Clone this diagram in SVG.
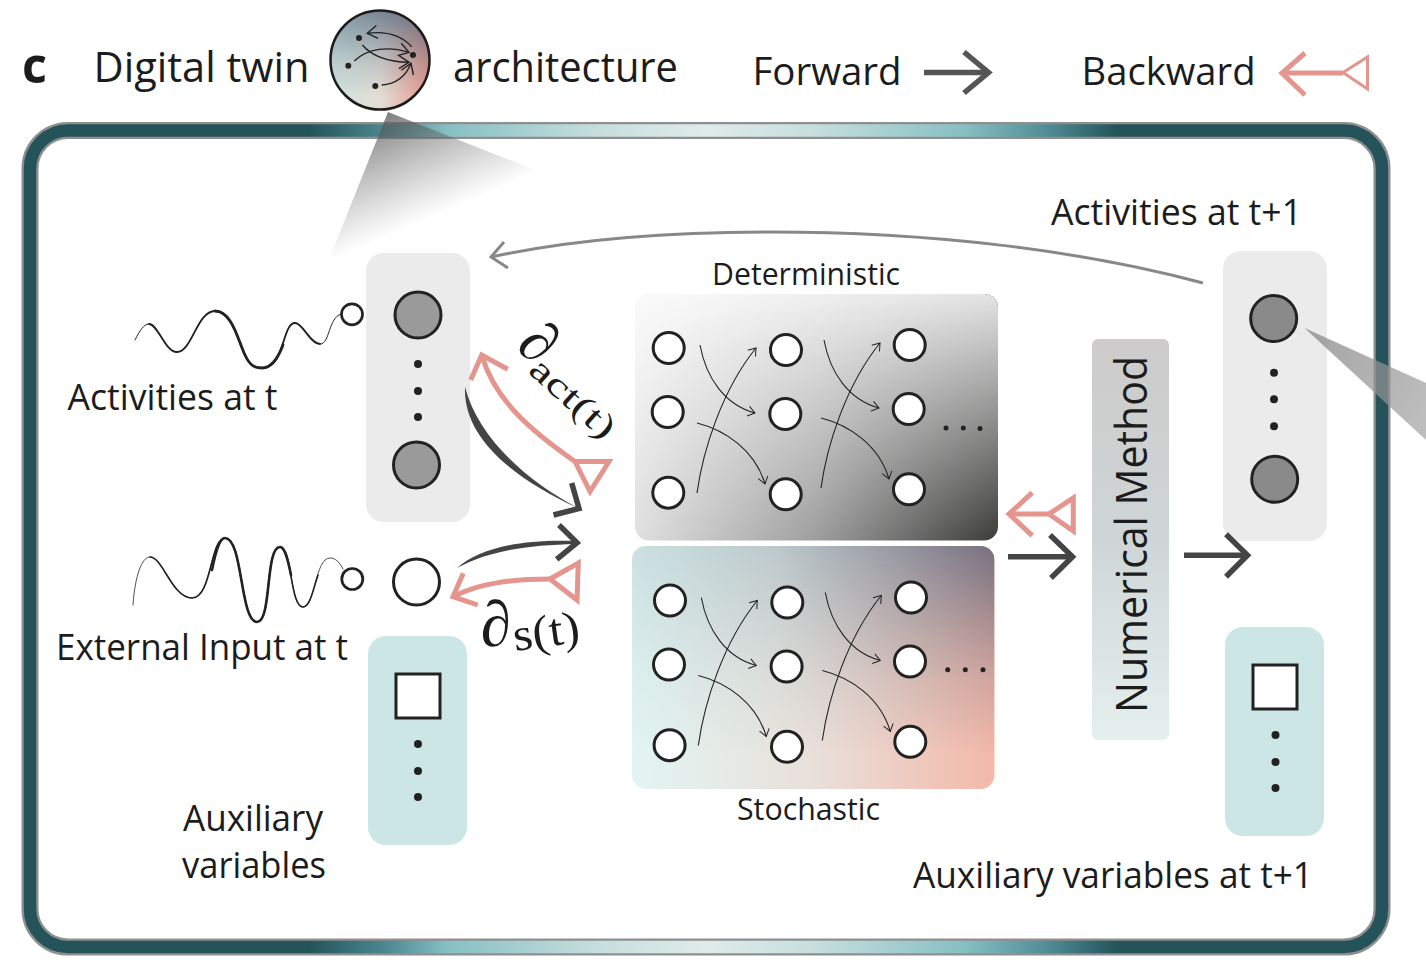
<svg xmlns="http://www.w3.org/2000/svg" xmlns:xlink="http://www.w3.org/1999/xlink" width="1426" height="972" viewBox="0 0 1426 972">
<style>
  .t { font-family: "Open Sans", "Noto Sans", sans-serif; fill: #1c1c1c; }
  .m { font-family: "Liberation Serif", "DejaVu Serif", serif; fill: #1c1c1c; }
  .ink { stroke: #222; stroke-width: 3; }
  .grey { stroke: #222; stroke-width: 3; }
  .dot { fill: #222; }
  .dark { fill: none; stroke: #444; stroke-width: 5.5; }
  .pink { fill: none; stroke: #e4958d; stroke-width: 5; }
  .panelG { fill: #ebebeb; }
  .panelT { fill: #cbe6e4; }
  .thin { fill: none; stroke: #222; stroke-width: 1.1; }
</style>
<defs>
  <linearGradient id="frameG" gradientUnits="userSpaceOnUse" x1="22" y1="0" x2="1390" y2="0">
    <stop offset="0" stop-color="#24545a"/>
    <stop offset="0.21" stop-color="#24545a"/>
    <stop offset="0.27" stop-color="#4f8c94"/>
    <stop offset="0.31" stop-color="#86bfc2"/>
    <stop offset="0.42" stop-color="#c6dedd"/>
    <stop offset="0.5" stop-color="#e0ebea"/>
    <stop offset="0.58" stop-color="#c6dedd"/>
    <stop offset="0.69" stop-color="#86bfc2"/>
    <stop offset="0.75" stop-color="#4f8c94"/>
    <stop offset="0.8" stop-color="#24545a"/>
    <stop offset="1" stop-color="#24545a"/>
  </linearGradient>
  <linearGradient id="funnelTop" gradientUnits="userSpaceOnUse" x1="388" y1="112" x2="433" y2="217">
    <stop offset="0" stop-color="#555" stop-opacity="0.75"/>
    <stop offset="1" stop-color="#777" stop-opacity="0"/>
  </linearGradient>
  <linearGradient id="funnelRight" gradientUnits="userSpaceOnUse" x1="1305" y1="328" x2="1426" y2="410">
    <stop offset="0" stop-color="#8c8c8c" stop-opacity="0.8"/>
    <stop offset="1" stop-color="#999" stop-opacity="0.65"/>
  </linearGradient>
  <linearGradient id="detBottom" x1="0" x2="1" y1="0" y2="0">
    <stop offset="0" stop-color="#e0e0e0"/>
    <stop offset="0.5" stop-color="#9e9e9e"/>
    <stop offset="1" stop-color="#3c3c3b"/>
  </linearGradient>
  <linearGradient id="detTop" x1="0" x2="1" y1="0" y2="0">
    <stop offset="0" stop-color="#fbfbfb"/>
    <stop offset="1" stop-color="#e4e4e4"/>
  </linearGradient>
  <linearGradient id="stoBottom" x1="0" x2="1" y1="0" y2="0">
    <stop offset="0" stop-color="#e2f5f3"/>
    <stop offset="0.5" stop-color="#e9e0da"/>
    <stop offset="1" stop-color="#f3b8a8"/>
  </linearGradient>
  <linearGradient id="stoTop" x1="0" x2="1" y1="0" y2="0">
    <stop offset="0" stop-color="#cbe0e0"/>
    <stop offset="0.4" stop-color="#bcc8ca"/>
    <stop offset="1" stop-color="#76707f"/>
  </linearGradient>
  <linearGradient id="fadeV" x1="0" x2="0" y1="0" y2="1">
    <stop offset="0" stop-color="#fff"/>
    <stop offset="1" stop-color="#000"/>
  </linearGradient>
  <linearGradient id="fadeFast" x1="0" x2="0" y1="0" y2="1">
    <stop offset="0" stop-color="#fff"/>
    <stop offset="0.3" stop-color="#999"/>
    <stop offset="0.55" stop-color="#444"/>
    <stop offset="0.85" stop-color="#000"/>
  </linearGradient>
  <mask id="fadeMask" maskContentUnits="objectBoundingBox" x="0" y="0" width="1" height="1">
    <rect width="1" height="1" fill="url(#fadeV)"/>
  </mask>
  <mask id="fadeFastMask" maskContentUnits="objectBoundingBox" x="0" y="0" width="1" height="1">
    <rect width="1" height="1" fill="url(#fadeFast)"/>
  </mask>
  <linearGradient id="numG" x1="0" x2="0" y1="0" y2="1">
    <stop offset="0" stop-color="#cdcbcb"/>
    <stop offset="0.5" stop-color="#cfd5d6"/>
    <stop offset="1" stop-color="#e4f0ee"/>
  </linearGradient>
  <linearGradient id="badgeA" x1="0" y1="0" x2="1" y2="0">
    <stop offset="0" stop-color="#839ea8"/>
    <stop offset="1" stop-color="#6a6a7c"/>
  </linearGradient>
  <linearGradient id="badgeB" x1="0" y1="0" x2="1" y2="0">
    <stop offset="0" stop-color="#cfe2de"/>
    <stop offset="0.5" stop-color="#e3ddd6"/>
    <stop offset="1" stop-color="#e3978a"/>
  </linearGradient>
  <marker id="tip" markerUnits="userSpaceOnUse" markerWidth="14" markerHeight="14" refX="9" refY="6" orient="auto" overflow="visible">
    <path d="M2,1 L9,6 L2,11" fill="none" stroke="#222" stroke-width="1"/>
  </marker>
  <marker id="tipB" markerUnits="userSpaceOnUse" markerWidth="18" markerHeight="18" refX="11" refY="7" orient="auto" overflow="visible">
    <path d="M1,0.5 L11,7 L1,13.5" fill="none" stroke="#222" stroke-width="1.4"/>
  </marker>
  <g id="net">
    <path class="thin" marker-end="url(#tip)" d="M700,345 C706,378 725,405 755,413"/>
    <path class="thin" marker-end="url(#tip)" d="M697,493 C703,450 722,390 756,348"/>
    <path class="thin" marker-end="url(#tip)" d="M697,423 C725,430 755,450 765,484"/>
    <path class="thin" marker-end="url(#tip)" d="M824,340 C830,373 849,400 879,408"/>
    <path class="thin" marker-end="url(#tip)" d="M821,488 C827,445 846,385 880,343"/>
    <path class="thin" marker-end="url(#tip)" d="M821,418 C849,425 879,445 889,479"/>
    <g fill="#fff" class="ink">
      <circle cx="668.7" cy="348" r="15.5"/>
      <circle cx="667.7" cy="412" r="15.5"/>
      <circle cx="668.3" cy="492.7" r="15.5"/>
      <circle cx="786" cy="350" r="15.5"/>
      <circle cx="785.3" cy="414" r="15.5"/>
      <circle cx="785.7" cy="494.3" r="15.5"/>
      <circle cx="909.7" cy="345" r="15.5"/>
      <circle cx="908.7" cy="409" r="15.5"/>
      <circle cx="909" cy="489.3" r="15.5"/>
    </g>
  </g>
</defs>

<!-- outer frame -->
<g id="frame">
  <rect x="30" y="130.500" width="1352" height="816.500" rx="38" fill="#fff" stroke="#8f8f8f" stroke-width="17"/>
  <rect x="30" y="130.500" width="1352" height="816.500" rx="38" fill="none" stroke="url(#frameG)" stroke-width="12.500"/>
</g>

<!-- zoom wedge from the heading badge -->
<g id="wedge-badge">
  <polygon points="388,112 328,262 540,172" fill="url(#funnelTop)"/>
</g>

<!-- heading -->
<g id="heading">
  <text class="t" x="22" y="83" font-size="50" font-weight="700" textLength="25" lengthAdjust="spacingAndGlyphs">c</text>
  <text class="t" x="93.500" y="82" font-size="42" textLength="216" lengthAdjust="spacingAndGlyphs">Digital twin</text>
  <text class="t" x="453" y="82" font-size="42" textLength="225" lengthAdjust="spacingAndGlyphs">architecture</text>
  <text class="t" x="752.500" y="85" font-size="39" textLength="149" lengthAdjust="spacingAndGlyphs">Forward</text>
  <text class="t" x="1081.500" y="85" font-size="39" textLength="174" lengthAdjust="spacingAndGlyphs">Backward</text>
</g>

<g id="badge">
  <rect x="330" y="10" width="100" height="100" rx="50" fill="url(#badgeB)"/>
  <rect x="330" y="10" width="100" height="100" rx="50" fill="url(#badgeA)" mask="url(#fadeFastMask)"/>
  <circle cx="380" cy="60" r="49.500" fill="none" stroke="#1c1c1c" stroke-width="2.500"/>
  <g class="dot">
    <circle cx="359" cy="38" r="3"/>
    <circle cx="348.300" cy="65.700" r="3"/>
    <circle cx="375.300" cy="86" r="3"/>
    <circle cx="413" cy="55" r="3"/>
  </g>
  <g fill="none" stroke="#222" stroke-width="1.400">
    <path marker-end="url(#tipB)" d="M411.700,46.700 C400,34 385,31 367.300,33.300"/>
    <path marker-end="url(#tipB)" d="M362.300,45 C372,56 388,62 409,62.300"/>
    <path marker-end="url(#tipB)" d="M354.300,61 C368,48 388,46 409,52.300"/>
    <path marker-end="url(#tipB)" d="M381.700,85 C397,84 406,76 411,63.300"/>
  </g>
</g>

<!-- legend arrows -->
<g id="legend-forward" class="dark" style="stroke:#555">
  <path d="M924,72.500 H988"/>
  <path d="M964,52 L988.500,72.500 L964,93"/>
</g>
<g id="legend-backward" class="pink">
  <path d="M1305,53 L1282,73 L1305,95"/>
  <path d="M1282,73 H1343"/>
  <path d="M1343,72.500 L1367.500,57 V89 Z" stroke-width="3"/>
</g>

<!-- input signals -->
<g id="signal-activities" fill="none" stroke="#222" stroke-linecap="round">
  <path stroke-width="1" d="M135,340 C140,330 144,324 149,324 C158,324 165,352 177,352 C192,352 197,311 215,311 C232,311 238,340 245,355 C250,366 255,368 262,368 C285,368 282,323 295,323 C303,323 310,344 320,344 C330,344 328,318 341,314"/>
  <path stroke-width="1.800" d="M149,324 C158,324 165,352 177,352 C192,352 197,311 215,311 C232,311 238,340 245,355 C250,366 255,368 262,368 C285,368 282,323 295,323 C303,323 310,344 320,344"/>
  <path stroke-width="2.800" d="M215,311 C232,311 238,340 245,355 C250,366 255,368 262,368 C272,368 278,358 283,345"/>
  <circle cx="352" cy="314.300" r="10.500" fill="#fff" stroke-width="2.700"/>
</g>
<text class="t" x="67.500" y="409.500" font-size="36" textLength="210" lengthAdjust="spacingAndGlyphs">Activities at t</text>

<g id="signal-external" fill="none" stroke="#222" stroke-linecap="round">
  <path stroke-width="0.800" d="M133,605 C135,575 142,557 150,557 C163,557 172,598 192,598 C212,598 210,538 225,538 C243,538 240,622 257,622 C272,622 265,547 280,547 C292,547 290,607 303,607 C315,607 315,558 330,558 C336,558 340,563 343,569"/>
  <path stroke-width="1.600" d="M150,557 C163,557 172,598 192,598 C212,598 210,538 225,538 C243,538 240,622 257,622 C272,622 265,547 280,547 C292,547 290,607 303,607 C310,607 313,590 318,575"/>
  <path stroke-width="2.600" d="M212,570 C216,550 220,538 225,538 C243,538 240,622 257,622 C272,622 265,547 280,547 C285,547 288,560 291,575"/>
  <circle cx="352.300" cy="579" r="10.500" fill="#fff" stroke-width="2.700"/>
</g>
<text class="t" x="56" y="660" font-size="36" textLength="292" lengthAdjust="spacingAndGlyphs">External Input at t</text>

<!-- state at t -->
<g id="state-t">
  <rect class="panelG" x="366" y="253" width="104" height="269" rx="18"/>
  <circle class="grey" cx="418" cy="315" r="23" fill="#9a9a9a"/>
  <circle class="dot" cx="418" cy="364" r="4"/>
  <circle class="dot" cx="418" cy="391" r="4"/>
  <circle class="dot" cx="418" cy="417" r="4"/>
  <circle class="grey" cx="416.500" cy="465" r="23" fill="#9a9a9a"/>
</g>
<g id="input-node">
  <circle class="ink" cx="416.500" cy="582" r="23" fill="#fff"/>
</g>
<g id="aux-t">
  <rect class="panelT" x="368" y="636" width="99" height="209" rx="18"/>
  <rect x="396" y="674" width="44" height="44" fill="#fff" class="ink"/>
  <circle class="dot" cx="418" cy="744" r="4"/>
  <circle class="dot" cx="418" cy="771" r="4"/>
  <circle class="dot" cx="418" cy="797" r="4"/>
</g>
<text class="t" x="183" y="831" font-size="36" textLength="140" lengthAdjust="spacingAndGlyphs">Auxiliary</text>
<text class="t" x="182" y="878" font-size="36" textLength="144" lengthAdjust="spacingAndGlyphs">variables</text>

<!-- deterministic block -->
<g id="deterministic">
  <text class="t" x="712" y="285" font-size="31" textLength="188" lengthAdjust="spacingAndGlyphs">Deterministic</text>
  <rect x="635" y="294" width="363" height="246.500" rx="14" fill="url(#detBottom)"/>
  <rect x="635" y="294" width="363" height="246.500" rx="14" fill="url(#detTop)" mask="url(#fadeMask)"/>
  <use xlink:href="#net" href="#net"/>
  <circle class="dot" cx="946" cy="428" r="2.500"/>
  <circle class="dot" cx="963.300" cy="428" r="2.500"/>
  <circle class="dot" cx="980" cy="428.500" r="2.500"/>
</g>

<!-- stochastic block -->
<g id="stochastic">
  <rect x="632" y="546" width="362.500" height="243" rx="14" fill="url(#stoBottom)"/>
  <rect x="632" y="546" width="362.500" height="243" rx="14" fill="url(#stoTop)" mask="url(#fadeFastMask)"/>
  <use xlink:href="#net" href="#net" transform="translate(1.300,252.500)"/>
  <circle class="dot" cx="947.700" cy="669.700" r="2.500"/>
  <circle class="dot" cx="965.300" cy="669.700" r="2.500"/>
  <circle class="dot" cx="983" cy="669.700" r="2.500"/>
  <text class="t" x="737" y="820" font-size="31" textLength="143" lengthAdjust="spacingAndGlyphs">Stochastic</text>
</g>

<!-- integrator -->
<g id="numerical-method">
  <rect x="1092" y="339" width="77" height="401" rx="6" fill="url(#numG)"/>
  <text class="t" transform="translate(1147,713) rotate(-90)" font-size="43" textLength="357" lengthAdjust="spacingAndGlyphs">Numerical Method</text>
</g>

<!-- state at t+1 -->
<g id="state-next">
  <text class="t" x="1051" y="225" font-size="36" textLength="251" lengthAdjust="spacingAndGlyphs">Activities at t+1</text>
  <rect class="panelG" x="1223" y="251" width="104" height="290" rx="18"/>
  <circle class="grey" cx="1273.700" cy="318.500" r="23" fill="#8a8a8a"/>
  <circle class="dot" cx="1274" cy="372.700" r="4"/>
  <circle class="dot" cx="1274" cy="399.300" r="4"/>
  <circle class="dot" cx="1274" cy="426.300" r="4"/>
  <circle class="grey" cx="1274.700" cy="479.300" r="23" fill="#8a8a8a"/>
</g>
<g id="aux-next">
  <rect class="panelT" x="1225" y="627" width="99" height="209" rx="18"/>
  <rect x="1253" y="665" width="44" height="44" fill="#fff" class="ink"/>
  <circle class="dot" cx="1275.500" cy="735" r="4"/>
  <circle class="dot" cx="1275.500" cy="762" r="4"/>
  <circle class="dot" cx="1275.500" cy="788" r="4"/>
  <text class="t" x="913" y="887.500" font-size="36" textLength="400" lengthAdjust="spacingAndGlyphs">Auxiliary variables at t+1</text>
</g>

<!-- zoom wedge leaving the t+1 state -->
<g id="wedge-next">
  <polygon points="1304.500,328 1426,383 1426,440" fill="url(#funnelRight)"/>
</g>

<!-- connectors -->
<g id="connectors">
  <path fill="none" stroke="#888" stroke-width="3" d="M1203,283 C1080,250 930,232 770,232 C660,232 570,240 491,257"/>
  <path fill="none" stroke="#888" stroke-width="3" d="M504,242 L491,257 L508,268"/>

  <path fill="#444" d="M465,387 C478,437 525,480 578,508 C512,478 463,437 465,387 Z"/>
  <path class="dark" d="M571.700,483 L579,508.500 L553.500,515"/>

  <path class="pink" stroke-width="4" d="M482,356 C495,400 530,430 575,461.500"/>
  <path class="pink" d="M470.700,380 L481.700,355 L507.700,369.300"/>
  <path class="pink" stroke-width="3.500" d="M575,461.500 H609 L590,491.500 Z"/>

  <path fill="#444" d="M457,568 C480,548 520,539 576,541 L576,544 C530,545 490,550 457,568 Z"/>
  <path class="dark" d="M559,525 L577,542.700 L556.700,559.300"/>

  <path class="pink" d="M455,596 C480,583 515,579 550,579"/>
  <path class="pink" d="M463.300,573.300 L453,596.700 L477.700,605"/>
  <path class="pink" stroke-width="3.500" d="M550,579 L578.300,563 L577,600 Z"/>

  <path class="dark" d="M1008,556.700 H1072"/>
  <path class="dark" d="M1050,535 L1072.500,556.700 L1051,578"/>
  <path class="dark" d="M1184,555.300 H1247"/>
  <path class="dark" d="M1226,534.300 L1247.500,555.300 L1226,576.700"/>

  <path class="pink" stroke-width="5.500" d="M1032.300,492.700 L1009,514 L1032.300,535.700"/>
  <path class="pink" d="M1009,514 H1049"/>
  <path class="pink" stroke-width="3" d="M1049,514 L1073.300,498 V531 Z"/>
</g>

<!-- partial-derivative labels -->
<g id="labels-derivative">
  <text class="m" transform="translate(515,349) rotate(38)" font-size="60">∂</text>
  <text class="m" transform="translate(527,372) rotate(42)" font-size="35" textLength="103" lengthAdjust="spacingAndGlyphs">act(t)</text>
  <text class="m" transform="translate(482,647) rotate(-6)" font-size="64">∂</text>
  <text class="m" transform="translate(515,651) rotate(-8)" font-size="46" textLength="67" lengthAdjust="spacingAndGlyphs">s(t)</text>
</g>
</svg>
